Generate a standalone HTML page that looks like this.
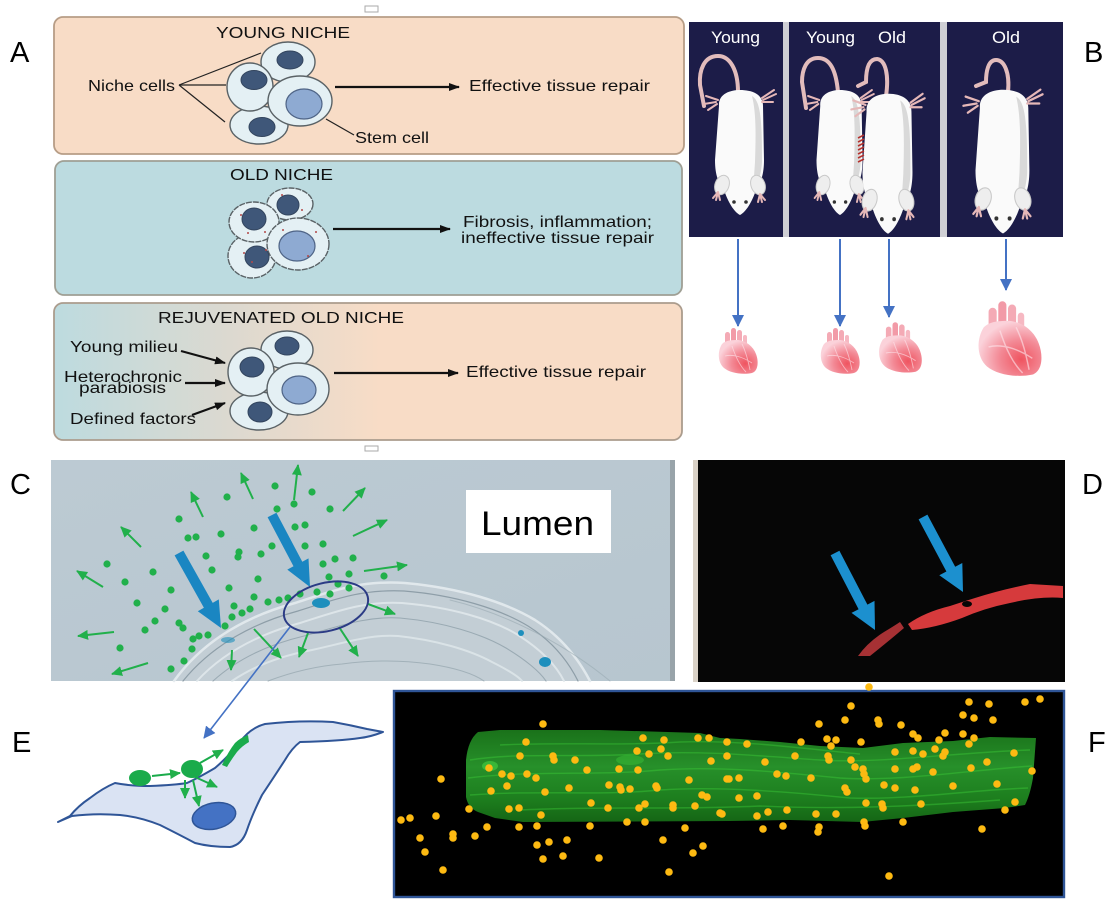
<!DOCTYPE html>
<html><head><meta charset="utf-8"><style>
html,body{margin:0;padding:0;background:#fff;}
svg{display:block;}
text{font-family:"Liberation Sans",Arial,sans-serif;}
</style></head><body>
<svg width="1118" height="915" viewBox="0 0 1118 915" xmlns="http://www.w3.org/2000/svg">
<defs>
<marker id="ka" markerWidth="11" markerHeight="8" refX="10" refY="4" orient="auto" markerUnits="userSpaceOnUse"><path d="M0,0 L11,4 L0,8 Z" fill="#111"/></marker>
<marker id="bka" markerWidth="12" markerHeight="12" refX="11" refY="6" orient="auto" markerUnits="userSpaceOnUse"><path d="M0,0 L12,6 L0,12 Z" fill="#4472c4"/></marker>
<marker id="ga" markerWidth="11" markerHeight="10" refX="10" refY="5" orient="auto" markerUnits="userSpaceOnUse"><path d="M0,0 L11,5 L0,10 Z" fill="#21b04b"/></marker>
<linearGradient id="rej" x1="0" y1="0" x2="1" y2="0">
<stop offset="0" stop-color="#bddbdf"/><stop offset="0.28" stop-color="#dcd9d0"/><stop offset="0.52" stop-color="#f8dcc6"/><stop offset="1" stop-color="#f8dcc6"/></linearGradient>
<radialGradient id="hg" cx="0.68" cy="0.7" r="0.7">
<stop offset="0" stop-color="#ef5460"/><stop offset="0.5" stop-color="#f38a96"/><stop offset="1" stop-color="#fbd2da"/></radialGradient>
<linearGradient id="cbg" x1="0" y1="0" x2="1" y2="1">
<stop offset="0" stop-color="#bccad3"/><stop offset="1" stop-color="#b7c6cf"/></linearGradient>
<linearGradient id="fib" x1="0" y1="0" x2="0" y2="1">
<stop offset="0" stop-color="#1a721a"/><stop offset="0.4" stop-color="#27902a"/><stop offset="0.75" stop-color="#1d7e1e"/><stop offset="1" stop-color="#156515"/></linearGradient>
<g id="heart">
<rect x="9" y="6" width="5" height="16" rx="2.5" fill="#f4aab5"/>
<rect x="15" y="2" width="5" height="18" rx="2.5" fill="#f29aa7"/>
<rect x="21" y="4" width="5" height="16" rx="2.5" fill="#f4aab5"/>
<rect x="27" y="9" width="4" height="12" rx="2" fill="#f6b8c2"/>
<path d="M6,18 C1,26 2,37 8,42 C14,47 26,49 36,47 C42,45 43,36 40,28 C37,20 30,15 22,14 C16,14 10,14 6,18 Z" fill="url(#hg)"/>
<path d="M9,30 C17,28 27,31 36,37 M16,20 C20,32 24,40 30,46 M26,18 C30,26 32,34 34,44" stroke="#fde6ec" stroke-width="0.9" fill="none" opacity="0.6"/>
</g>
<g id="mouse">
<path d="M-21,14 C-22,2 -10,-2 0,-2 C12,-2 23,2 23,14 L24,68 C24,84 20,92 16,98 C12,110 6,120 0,123 C-6,120 -12,110 -16,98 C-21,92 -25,84 -25,68 Z" fill="#fafafa"/>
<path d="M12,4 C21,9 22,30 22,70 C21,85 17,94 13,99 L15,70 C16,40 16,20 12,4 Z" fill="#d9d9d9"/>
<ellipse cx="-18" cy="93" rx="7" ry="10" transform="rotate(20 -18 93)" fill="#eeeeee" stroke="#c9c9c9" stroke-width="1"/>
<ellipse cx="18" cy="93" rx="7" ry="10" transform="rotate(-20 18 93)" fill="#eeeeee" stroke="#c9c9c9" stroke-width="1"/>
<circle cx="-6" cy="110" r="1.8" fill="#333"/><circle cx="6" cy="110" r="1.8" fill="#333"/>
<g stroke="#e6b8b8" stroke-width="2" stroke-linecap="round">
<path d="M-22,100 L-27,106 M-22,100 L-24,108 M-22,100 L-20,108"/>
<path d="M20,102 L25,108 M20,102 L22,110 M20,102 L18,110"/>
<path d="M-22,8 L-34,4 M-24,10 L-36,12 M-23,12 L-32,18"/>
<path d="M22,6 L34,-2 M23,8 L36,2 M22,10 L33,10"/>
</g>
</g>
</defs>

<rect width="1118" height="915" fill="#fff"/>

<!-- Panel labels -->
<text x="10" y="62" font-size="29">A</text>
<text x="1084" y="62" font-size="29">B</text>
<text x="10" y="494" font-size="29">C</text>
<text x="1082" y="494" font-size="29">D</text>
<text x="12" y="752" font-size="29">E</text>
<text x="1088" y="752" font-size="29">F</text>

<rect x="365" y="6" width="13" height="6" fill="none" stroke="#aaa" stroke-width="1"/>
<rect x="365" y="446" width="13" height="5" fill="none" stroke="#aaa" stroke-width="1"/>

<!-- ========== PANEL A ========== -->
<rect x="54" y="17" width="630" height="137" rx="9" fill="#f8dcc6" stroke="#b79d86" stroke-width="1.8"/>
<rect x="55" y="161" width="627" height="134" rx="9" fill="#bcdbe0" stroke="#9f9f94" stroke-width="1.8"/>
<rect x="54" y="303" width="628" height="137" rx="9" fill="url(#rej)" stroke="#ab9c8d" stroke-width="1.8"/>

<g fill="#111">
<text x="216" y="38" font-size="16" textLength="134" lengthAdjust="spacingAndGlyphs">YOUNG NICHE</text>
<text x="88" y="91" font-size="16" textLength="87" lengthAdjust="spacingAndGlyphs">Niche cells</text>
<text x="469" y="91" font-size="16" textLength="181" lengthAdjust="spacingAndGlyphs">Effective tissue repair</text>
<text x="355" y="143" font-size="16" textLength="74" lengthAdjust="spacingAndGlyphs">Stem cell</text>
<text x="230" y="180" font-size="16" textLength="103" lengthAdjust="spacingAndGlyphs">OLD NICHE</text>
<text x="463" y="227" font-size="16" textLength="189" lengthAdjust="spacingAndGlyphs">Fibrosis, inflammation;</text>
<text x="461" y="243" font-size="16" textLength="193" lengthAdjust="spacingAndGlyphs">ineffective tissue repair</text>
<text x="158" y="323" font-size="16" textLength="246" lengthAdjust="spacingAndGlyphs">REJUVENATED OLD NICHE</text>
<text x="70" y="352" font-size="16" textLength="108" lengthAdjust="spacingAndGlyphs">Young milieu</text>
<text x="64" y="382" font-size="16" textLength="118" lengthAdjust="spacingAndGlyphs">Heterochronic</text>
<text x="79" y="393" font-size="16" textLength="87" lengthAdjust="spacingAndGlyphs">parabiosis</text>
<text x="70" y="424" font-size="16" textLength="126" lengthAdjust="spacingAndGlyphs">Defined factors</text>
<text x="466" y="377" font-size="16" textLength="180" lengthAdjust="spacingAndGlyphs">Effective tissue repair</text>
</g>

<g stroke="#111" stroke-width="2.2" fill="none">
<line x1="335" y1="87" x2="459" y2="87" marker-end="url(#ka)"/>
<line x1="333" y1="229" x2="450" y2="229" marker-end="url(#ka)"/>
<line x1="334" y1="373" x2="458" y2="373" marker-end="url(#ka)"/>
<line x1="181" y1="351" x2="225" y2="363" marker-end="url(#ka)"/>
<line x1="185" y1="383" x2="225" y2="383" marker-end="url(#ka)"/>
<line x1="192" y1="415" x2="225" y2="403" marker-end="url(#ka)"/>
</g>
<g stroke="#222" stroke-width="1.2" fill="none">
<line x1="179" y1="85" x2="261" y2="53"/>
<line x1="179" y1="85" x2="226" y2="85"/>
<line x1="179" y1="85" x2="225" y2="122"/>
<line x1="326" y1="119" x2="354" y2="135"/>
</g>

<g stroke="#5a6266" stroke-width="1.4" fill="#e4f0f4">
<ellipse cx="288" cy="62" rx="27" ry="20"/>
<ellipse cx="259" cy="125" rx="29" ry="19"/>
<ellipse cx="250" cy="87" rx="23" ry="24"/>
<ellipse cx="300" cy="101" rx="32" ry="25"/>
</g>
<g stroke="#33455e" stroke-width="1" fill="#3f5779">
<ellipse cx="290" cy="60" rx="13" ry="9"/>
<ellipse cx="254" cy="80" rx="13" ry="9.5"/>
<ellipse cx="262" cy="127" rx="13" ry="9.5"/>
</g>
<ellipse cx="304" cy="104" rx="18" ry="15" fill="#8eaad2" stroke="#4f6486" stroke-width="1.2"/>

<g stroke="#5a6266" stroke-width="1.4" fill="#e4f0f4" stroke-dasharray="6 1">
<ellipse cx="290" cy="204" rx="23" ry="16"/>
<ellipse cx="252" cy="256" rx="24" ry="22"/>
<ellipse cx="254" cy="222" rx="25" ry="20"/>
<ellipse cx="298" cy="244" rx="31" ry="26"/>
</g>
<g stroke="#33455e" stroke-width="1" fill="#3f5779">
<ellipse cx="288" cy="205" rx="11" ry="10"/>
<ellipse cx="254" cy="219" rx="12" ry="11"/>
<ellipse cx="257" cy="257" rx="12" ry="11"/>
</g>
<ellipse cx="297" cy="246" rx="18" ry="15" fill="#8eaad2" stroke="#4f6486" stroke-width="1.2"/>
<g fill="#b14848">
<circle cx="241" cy="215" r="1"/><circle cx="248" cy="233" r="1"/><circle cx="265" cy="232" r="1"/><circle cx="282" cy="195" r="1"/><circle cx="302" cy="210" r="1"/><circle cx="244" cy="253" r="1"/><circle cx="266" cy="250" r="1"/><circle cx="252" cy="262" r="1"/><circle cx="308" cy="256" r="1"/><circle cx="283" cy="230" r="1"/><circle cx="316" cy="232" r="1"/>
</g>

<g stroke="#5a6266" stroke-width="1.4" fill="#e4f0f4">
<ellipse cx="287" cy="350" rx="26" ry="19"/>
<ellipse cx="259" cy="411" rx="29" ry="19"/>
<ellipse cx="251" cy="372" rx="23" ry="24"/>
<ellipse cx="298" cy="389" rx="31" ry="26"/>
</g>
<g stroke="#33455e" stroke-width="1" fill="#3f5779">
<ellipse cx="287" cy="346" rx="12" ry="9"/>
<ellipse cx="252" cy="367" rx="12" ry="10"/>
<ellipse cx="260" cy="412" rx="12" ry="10"/>
</g>
<ellipse cx="299" cy="390" rx="17" ry="14" fill="#8eaad2" stroke="#4f6486" stroke-width="1.2"/>

<!-- ========== PANEL B ========== -->
<rect x="689" y="22" width="374" height="215" fill="#1c1c48"/>
<rect x="783" y="22" width="6" height="215" fill="#cfcfd4"/>
<rect x="940" y="22" width="7" height="215" fill="#cfcfd4"/>
<g fill="#fff" font-size="17">
<text x="711" y="43" textLength="49" lengthAdjust="spacingAndGlyphs">Young</text>
<text x="806" y="43" textLength="49" lengthAdjust="spacingAndGlyphs">Young</text>
<text x="878" y="43" textLength="28" lengthAdjust="spacingAndGlyphs">Old</text>
<text x="992" y="43" textLength="28" lengthAdjust="spacingAndGlyphs">Old</text>
</g>
<g fill="none" stroke="#e2bcbc" stroke-width="4" stroke-linecap="round">
<path d="M738,92 C738,70 730,56 718,56 C704,56 699,70 700,85 L704,106"/>
<path d="M838,92 C836,70 830,58 818,58 C806,58 802,70 802,82 L806,108"/>
<path d="M886,96 C889,76 886,60 877,59 C868,59 866,70 866,82 L858,86"/>
<path d="M1008,92 C1010,72 1004,60 996,60 C988,60 986,72 986,82 L976,86"/>
</g>
<use href="#mouse" transform="translate(740,92)"/>
<use href="#mouse" transform="translate(840,92) scale(0.94,1)"/>
<use href="#mouse" transform="translate(888,96) scale(1.02,1.12)"/>
<use href="#mouse" transform="translate(1003,92) scale(1.1,1.15)"/>
<g stroke="#b5322e" stroke-width="1.6">
<path d="M858,138 L864,135 M858,142 L864,139 M858,146 L864,143 M858,150 L864,147 M858,154 L864,151 M858,158 L864,155 M858,162 L864,159"/>
</g>
<g stroke="#4472c4" stroke-width="2" fill="none">
<line x1="738" y1="239" x2="738" y2="326" marker-end="url(#bka)"/>
<line x1="840" y1="239" x2="840" y2="326" marker-end="url(#bka)"/>
<line x1="889" y1="239" x2="889" y2="317" marker-end="url(#bka)"/>
<line x1="1006" y1="239" x2="1006" y2="290" marker-end="url(#bka)"/>
</g>
<use href="#heart" transform="translate(716,326)"/>
<use href="#heart" transform="translate(818,326)"/>
<use href="#heart" transform="translate(876,320) scale(1.1,1.1)"/>
<use href="#heart" transform="translate(974,298) scale(1.62,1.63)"/>

<!-- ========== PANEL C ========== -->
<rect x="51" y="460" width="624" height="221" fill="url(#cbg)"/>
<rect x="670" y="460" width="5" height="221" fill="#98a3a9"/>
<path d="M174,681 C200,645 240,618 295,603 C335,590 362,580 405,583 C460,588 505,602 535,620 C560,636 578,658 590,681 Z" fill="#c3ced5"/>
<g fill="none" stroke-linecap="round">
<path d="M174,681 C200,645 240,618 295,603 C335,590 362,580 405,583 C460,588 505,602 535,620 C560,636 578,658 590,681" stroke="#e4ebee" stroke-width="2.5" opacity="0.9"/>
<path d="M183,681 C208,650 246,625 298,611 C336,599 362,589 404,591 C455,595 500,609 528,626 C552,641 568,661 578,681" stroke="#8e9ea8" stroke-width="1.2"/>
<path d="M197,681 C220,656 252,636 300,623 C338,611 364,601 402,603 C450,607 492,619 518,635 C540,649 556,665 564,681" stroke="#e2e9ec" stroke-width="2" opacity="0.85"/>
<path d="M213,681 C234,662 262,646 304,636 C340,626 366,616 400,618 C444,622 482,634 506,648 C526,660 540,672 546,681" stroke="#9aaab3" stroke-width="1.1"/>
<path d="M232,681 C254,666 280,656 312,650 C348,642 372,634 398,636 C436,640 470,650 492,662 C508,670 518,676 522,681" stroke="#e0e8eb" stroke-width="2" opacity="0.8"/>
<path d="M268,681 C292,672 316,666 342,664 C372,660 402,660 430,664 C456,668 474,674 484,681" stroke="#a2b1b9" stroke-width="1"/>
<path d="M450,600 C500,612 560,640 610,681" stroke="#9aaab3" stroke-width="1" opacity="0.6"/>
</g>
<g fill="#1e8fbd">
<ellipse cx="321" cy="603" rx="9" ry="5"/>
<ellipse cx="545" cy="662" rx="6" ry="5"/>
<ellipse cx="521" cy="633" rx="3" ry="3"/>
<ellipse cx="228" cy="640" rx="7" ry="3" opacity="0.6"/>
</g>
<g fill="#1a86c2">
<polygon points="174.6,555.4 183.4,550.6 212.7,602.9 218.8,599.4 221,628 197.8,611.2 203.9,607.7"/>
<polygon points="267.6,517.3 276.4,512.7 302.3,561.7 308.5,558.4 310,587 287.3,569.6 293.5,566.3"/>
</g>
<g fill="#21b04b">
<circle cx="275" cy="486" r="3.6"/><circle cx="312" cy="492" r="3.6"/><circle cx="227" cy="497" r="3.6"/><circle cx="294" cy="504" r="3.6"/><circle cx="277" cy="509" r="3.6"/><circle cx="330" cy="509" r="3.6"/><circle cx="179" cy="519" r="3.6"/><circle cx="254" cy="528" r="3.6"/><circle cx="295" cy="527" r="3.6"/><circle cx="305" cy="525" r="3.6"/><circle cx="221" cy="534" r="3.6"/><circle cx="188" cy="538" r="3.6"/><circle cx="196" cy="537" r="3.6"/><circle cx="323" cy="544" r="3.6"/><circle cx="305" cy="546" r="3.6"/><circle cx="272" cy="546" r="3.6"/><circle cx="239" cy="552" r="3.6"/><circle cx="261" cy="554" r="3.6"/><circle cx="238" cy="557" r="3.6"/><circle cx="206" cy="556" r="3.6"/><circle cx="335" cy="559" r="3.6"/><circle cx="353" cy="558" r="3.6"/><circle cx="323" cy="564" r="3.6"/><circle cx="107" cy="564" r="3.6"/><circle cx="153" cy="572" r="3.6"/><circle cx="212" cy="570" r="3.6"/><circle cx="329" cy="577" r="3.6"/><circle cx="349" cy="574" r="3.6"/><circle cx="384" cy="576" r="3.6"/><circle cx="258" cy="579" r="3.6"/><circle cx="125" cy="582" r="3.6"/><circle cx="171" cy="590" r="3.6"/><circle cx="229" cy="588" r="3.6"/><circle cx="338" cy="584" r="3.6"/><circle cx="349" cy="588" r="3.6"/><circle cx="317" cy="592" r="3.6"/><circle cx="330" cy="594" r="3.6"/><circle cx="300" cy="594" r="3.6"/><circle cx="288" cy="598" r="3.6"/><circle cx="279" cy="600" r="3.6"/><circle cx="268" cy="602" r="3.6"/><circle cx="254" cy="597" r="3.6"/><circle cx="137" cy="603" r="3.6"/><circle cx="165" cy="609" r="3.6"/><circle cx="234" cy="606" r="3.6"/><circle cx="250" cy="609" r="3.6"/><circle cx="242" cy="613" r="3.6"/><circle cx="232" cy="617" r="3.6"/><circle cx="155" cy="621" r="3.6"/><circle cx="179" cy="623" r="3.6"/><circle cx="183" cy="628" r="3.6"/><circle cx="145" cy="630" r="3.6"/><circle cx="225" cy="626" r="3.6"/><circle cx="208" cy="635" r="3.6"/><circle cx="199" cy="636" r="3.6"/><circle cx="193" cy="639" r="3.6"/><circle cx="192" cy="649" r="3.6"/><circle cx="120" cy="648" r="3.6"/><circle cx="184" cy="661" r="3.6"/><circle cx="171" cy="669" r="3.6"/>
</g>
<g stroke="#21b04b" stroke-width="2" fill="none">
<line x1="203" y1="517" x2="191" y2="492" marker-end="url(#ga)"/>
<line x1="253" y1="499" x2="241" y2="473" marker-end="url(#ga)"/>
<line x1="294" y1="500" x2="298" y2="465" marker-end="url(#ga)"/>
<line x1="343" y1="511" x2="365" y2="488" marker-end="url(#ga)"/>
<line x1="353" y1="536" x2="387" y2="520" marker-end="url(#ga)"/>
<line x1="364" y1="571" x2="407" y2="565" marker-end="url(#ga)"/>
<line x1="141" y1="547" x2="121" y2="527" marker-end="url(#ga)"/>
<line x1="103" y1="587" x2="77" y2="571" marker-end="url(#ga)"/>
<line x1="114" y1="632" x2="78" y2="636" marker-end="url(#ga)"/>
<line x1="148" y1="663" x2="112" y2="674" marker-end="url(#ga)"/>
<line x1="232" y1="650" x2="231" y2="670" marker-end="url(#ga)"/>
<line x1="254" y1="629" x2="281" y2="658" marker-end="url(#ga)"/>
<line x1="308" y1="633" x2="299" y2="657" marker-end="url(#ga)"/>
<line x1="339" y1="627" x2="358" y2="656" marker-end="url(#ga)"/>
<line x1="368" y1="604" x2="395" y2="614" marker-end="url(#ga)"/>
</g>
<ellipse cx="326" cy="607" rx="43" ry="24" transform="rotate(-14 326 607)" fill="none" stroke="#2b3b85" stroke-width="2"/>
<rect x="466" y="490" width="145" height="63" fill="#fff"/>
<text x="481" y="535" font-size="34" fill="#000" textLength="113" lengthAdjust="spacingAndGlyphs">Lumen</text>

<!-- ========== PANEL D ========== -->
<rect x="693" y="460" width="5" height="222" fill="#d9d1c6"/>
<rect x="698" y="460" width="367" height="222" fill="#060606"/>
<path d="M858,656 Q868,642 884,632 Q894,626 900,622 L904,628 Q890,640 870,656 Z" fill="#b8363a" opacity="0.9"/>
<path d="M908,624 Q925,612 950,606 Q962,602 975,598 Q1000,590 1030,584 L1063,586 L1063,598 Q1040,596 1010,603 Q985,608 962,618 Q935,628 912,630 Z" fill="#d63a3c"/>
<ellipse cx="967" cy="604" rx="5" ry="3" fill="#060606"/>
<g fill="#1c90cf">
<polygon points="830.6,555.3 839.4,550.7 867.4,604.6 874.5,600.9 875,630 851.5,612.9 858.6,609.2"/>
<polygon points="918.6,519.4 927.4,514.6 955.2,566.7 962.3,563.0 963,592 939.3,575.2 946.4,571.5"/>
</g>

<!-- ========== PANEL E ========== -->
<line x1="290" y1="627" x2="204" y2="738" stroke="#4472c4" stroke-width="1.6" marker-end="url(#bka)"/>
<path d="M58,822 L70,816 Q78,806 90,798 Q103,788 115,783 Q130,786 150,786 Q175,785 187,783 Q198,778 215,768 Q228,757 240,742 Q250,728 265,724 Q300,720 333,722 Q350,725 367,729 L383,732 Q370,737 360,738 Q340,741 300,742 Q292,748 285,760 Q272,780 262,795 Q252,815 247,830 Q242,845 230,847 Q210,847 195,843 Q180,835 160,825 Q140,817 120,815 Q95,813 72,816 Z" fill="#dae3f3" stroke="#2f5597" stroke-width="2" stroke-linejoin="round"/>
<ellipse cx="214" cy="816" rx="22" ry="13" transform="rotate(-12 214 816)" fill="#4472c4" stroke="#2f5597" stroke-width="1.5"/>
<g fill="#1aab4b">
<ellipse cx="140" cy="778" rx="11" ry="8"/>
<ellipse cx="192" cy="769" rx="11" ry="9"/>
<path d="M222,765 Q228,752 235,743 Q240,738 248,735 L249,742 Q242,746 237,752 Q231,760 227,767 Z"/>
</g>
<g stroke="#1aab4b" stroke-width="2" fill="none">
<line x1="152" y1="776" x2="180" y2="773" marker-end="url(#ga)"/>
<line x1="200" y1="763" x2="223" y2="750" marker-end="url(#ga)"/>
<line x1="195" y1="777" x2="217" y2="787" marker-end="url(#ga)"/>
<line x1="193" y1="780" x2="199" y2="806" marker-end="url(#ga)"/>
<line x1="185" y1="780" x2="185" y2="798" marker-end="url(#ga)"/>
</g>

<!-- ========== PANEL F ========== -->
<rect x="394" y="691" width="670" height="206" fill="#000" stroke="#2f5597" stroke-width="2.4"/>
<path d="M478,732 Q468,740 466,760 L466,797 Q468,808 478,812 L495,818 L523,822 L730,821 L790,820 L862,822 L903,818 L953,812 L1005,808 L1025,805 Q1030,795 1033,778 L1036,738 L990,737 L953,741 L903,743 L863,748 L820,746 L780,742 L740,739 L720,738 L700,733 L600,730 L500,730 Z" fill="url(#fib)"/>
<g fill="none" stroke="#3fd23a" stroke-width="1.4" opacity="0.4">
<path d="M470,760 C520,752 580,758 640,754 C700,750 760,756 820,760 C880,764 960,752 1030,750"/>
<path d="M468,778 C530,770 600,776 660,770 C720,766 780,772 840,778 C900,782 970,770 1032,766"/>
<path d="M470,795 C540,790 600,796 660,790 C720,786 790,792 850,798 C910,800 970,790 1028,788"/>
<path d="M500,745 C560,742 620,746 680,742 C740,740 800,748 860,754"/>
<path d="M520,810 C600,806 680,810 760,806 C840,810 920,806 1000,800"/>
</g>
<ellipse cx="490" cy="766" rx="8" ry="5" fill="#4ee048" opacity="0.5"/>
<ellipse cx="630" cy="760" rx="14" ry="5" fill="#45d840" opacity="0.35"/>
<g fill="#fdba12">
<circle cx="869" cy="687" r="3.8"/>
<circle cx="543" cy="724" r="3.8"/><circle cx="526" cy="742" r="3.8"/><circle cx="520" cy="756" r="3.8"/><circle cx="553" cy="756" r="3.8"/><circle cx="554" cy="760" r="3.8"/><circle cx="575" cy="760" r="3.8"/><circle cx="489" cy="768" r="3.8"/><circle cx="502" cy="774" r="3.8"/><circle cx="511" cy="776" r="3.8"/><circle cx="527" cy="774" r="3.8"/><circle cx="536" cy="778" r="3.8"/><circle cx="587" cy="770" r="3.8"/><circle cx="619" cy="769" r="3.8"/><circle cx="638" cy="770" r="3.8"/><circle cx="643" cy="738" r="3.8"/><circle cx="664" cy="740" r="3.8"/><circle cx="637" cy="751" r="3.8"/><circle cx="649" cy="754" r="3.8"/><circle cx="661" cy="749" r="3.8"/><circle cx="668" cy="756" r="3.8"/><circle cx="698" cy="738" r="3.8"/><circle cx="709" cy="738" r="3.8"/><circle cx="727" cy="742" r="3.8"/><circle cx="711" cy="761" r="3.8"/><circle cx="727" cy="756" r="3.8"/><circle cx="727" cy="779" r="3.8"/><circle cx="689" cy="780" r="3.8"/><circle cx="441" cy="779" r="3.8"/><circle cx="491" cy="791" r="3.8"/><circle cx="507" cy="786" r="3.8"/><circle cx="545" cy="792" r="3.8"/><circle cx="569" cy="788" r="3.8"/><circle cx="609" cy="785" r="3.8"/><circle cx="620" cy="787" r="3.8"/><circle cx="621" cy="790" r="3.8"/><circle cx="630" cy="789" r="3.8"/><circle cx="656" cy="786" r="3.8"/><circle cx="657" cy="788" r="3.8"/><circle cx="702" cy="795" r="3.8"/><circle cx="707" cy="797" r="3.8"/><circle cx="469" cy="809" r="3.8"/><circle cx="509" cy="809" r="3.8"/><circle cx="519" cy="808" r="3.8"/><circle cx="541" cy="815" r="3.8"/><circle cx="591" cy="803" r="3.8"/><circle cx="608" cy="808" r="3.8"/><circle cx="639" cy="808" r="3.8"/><circle cx="645" cy="804" r="3.8"/><circle cx="673" cy="805" r="3.8"/><circle cx="673" cy="808" r="3.8"/><circle cx="695" cy="806" r="3.8"/><circle cx="720" cy="813" r="3.8"/><circle cx="401" cy="820" r="3.8"/><circle cx="410" cy="818" r="3.8"/><circle cx="436" cy="816" r="3.8"/><circle cx="487" cy="827" r="3.8"/><circle cx="519" cy="827" r="3.8"/><circle cx="537" cy="826" r="3.8"/><circle cx="590" cy="826" r="3.8"/><circle cx="627" cy="822" r="3.8"/><circle cx="645" cy="822" r="3.8"/><circle cx="685" cy="828" r="3.8"/><circle cx="420" cy="838" r="3.8"/><circle cx="453" cy="834" r="3.8"/><circle cx="453" cy="838" r="3.8"/><circle cx="475" cy="836" r="3.8"/><circle cx="537" cy="845" r="3.8"/><circle cx="549" cy="842" r="3.8"/><circle cx="567" cy="840" r="3.8"/><circle cx="663" cy="840" r="3.8"/><circle cx="703" cy="846" r="3.8"/><circle cx="693" cy="853" r="3.8"/><circle cx="425" cy="852" r="3.8"/><circle cx="543" cy="859" r="3.8"/><circle cx="563" cy="856" r="3.8"/><circle cx="599" cy="858" r="3.8"/><circle cx="443" cy="870" r="3.8"/><circle cx="669" cy="872" r="3.8"/>
<circle cx="851" cy="706" r="3.8"/><circle cx="969" cy="702" r="3.8"/><circle cx="989" cy="704" r="3.8"/><circle cx="1025" cy="702" r="3.8"/><circle cx="1040" cy="699" r="3.8"/><circle cx="963" cy="715" r="3.8"/><circle cx="974" cy="718" r="3.8"/><circle cx="993" cy="720" r="3.8"/><circle cx="819" cy="724" r="3.8"/><circle cx="845" cy="720" r="3.8"/><circle cx="878" cy="720" r="3.8"/><circle cx="879" cy="724" r="3.8"/><circle cx="901" cy="725" r="3.8"/><circle cx="913" cy="734" r="3.8"/><circle cx="918" cy="738" r="3.8"/><circle cx="945" cy="733" r="3.8"/><circle cx="939" cy="740" r="3.8"/><circle cx="963" cy="734" r="3.8"/><circle cx="974" cy="738" r="3.8"/><circle cx="969" cy="744" r="3.8"/><circle cx="827" cy="739" r="3.8"/><circle cx="836" cy="740" r="3.8"/><circle cx="831" cy="746" r="3.8"/><circle cx="801" cy="742" r="3.8"/><circle cx="861" cy="742" r="3.8"/><circle cx="747" cy="744" r="3.8"/><circle cx="765" cy="762" r="3.8"/><circle cx="795" cy="756" r="3.8"/><circle cx="828" cy="756" r="3.8"/><circle cx="829" cy="760" r="3.8"/><circle cx="851" cy="760" r="3.8"/><circle cx="855" cy="767" r="3.8"/><circle cx="863" cy="769" r="3.8"/><circle cx="864" cy="774" r="3.8"/><circle cx="866" cy="779" r="3.8"/><circle cx="895" cy="752" r="3.8"/><circle cx="913" cy="751" r="3.8"/><circle cx="923" cy="754" r="3.8"/><circle cx="935" cy="749" r="3.8"/><circle cx="945" cy="752" r="3.8"/><circle cx="943" cy="756" r="3.8"/><circle cx="895" cy="769" r="3.8"/><circle cx="913" cy="769" r="3.8"/><circle cx="917" cy="767" r="3.8"/><circle cx="933" cy="772" r="3.8"/><circle cx="971" cy="768" r="3.8"/><circle cx="987" cy="762" r="3.8"/><circle cx="1014" cy="753" r="3.8"/><circle cx="1032" cy="771" r="3.8"/><circle cx="729" cy="779" r="3.8"/><circle cx="739" cy="778" r="3.8"/><circle cx="777" cy="774" r="3.8"/><circle cx="786" cy="776" r="3.8"/><circle cx="811" cy="778" r="3.8"/><circle cx="845" cy="788" r="3.8"/><circle cx="847" cy="792" r="3.8"/><circle cx="884" cy="785" r="3.8"/><circle cx="895" cy="788" r="3.8"/><circle cx="915" cy="790" r="3.8"/><circle cx="953" cy="786" r="3.8"/><circle cx="997" cy="784" r="3.8"/><circle cx="739" cy="798" r="3.8"/><circle cx="757" cy="796" r="3.8"/><circle cx="866" cy="803" r="3.8"/><circle cx="882" cy="804" r="3.8"/><circle cx="883" cy="808" r="3.8"/><circle cx="921" cy="804" r="3.8"/><circle cx="1015" cy="802" r="3.8"/><circle cx="1005" cy="810" r="3.8"/><circle cx="722" cy="814" r="3.8"/><circle cx="757" cy="816" r="3.8"/><circle cx="768" cy="812" r="3.8"/><circle cx="787" cy="810" r="3.8"/><circle cx="816" cy="814" r="3.8"/><circle cx="836" cy="814" r="3.8"/><circle cx="864" cy="822" r="3.8"/><circle cx="865" cy="826" r="3.8"/><circle cx="903" cy="822" r="3.8"/><circle cx="763" cy="829" r="3.8"/><circle cx="783" cy="826" r="3.8"/><circle cx="819" cy="827" r="3.8"/><circle cx="818" cy="832" r="3.8"/><circle cx="982" cy="829" r="3.8"/><circle cx="889" cy="876" r="3.8"/>
</g>
</svg>
</body></html>
